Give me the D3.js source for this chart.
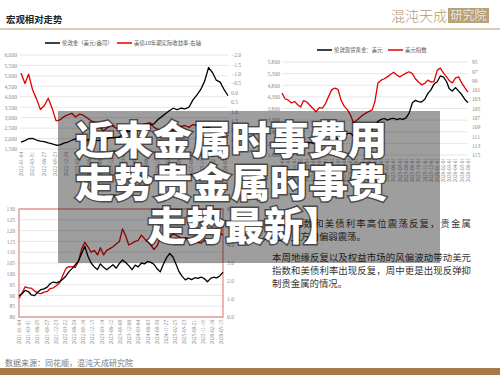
<!DOCTYPE html>
<html><head><meta charset="utf-8">
<script src="https://cdn.jsdelivr.net/npm/d3@7"></script>
<style>html,body{margin:0;padding:0;background:#fff;}svg{display:block;}</style>
</head><body><svg id="c" width="500" height="375"></svg>
<script>
// ---------- Chart 1: gold vs US 10Y real yield (monthly) ----------
const dates1 = ["2022-01-01","2022-02-01","2022-03-01","2022-04-01","2022-05-01","2022-06-01","2022-07-01","2022-08-01","2022-09-01","2022-10-01","2022-11-01","2022-12-01",
"2023-01-01","2023-02-01","2023-03-01","2023-04-01","2023-05-01","2023-06-01","2023-07-01","2023-08-01","2023-09-01","2023-10-01","2023-11-01","2023-12-01",
"2024-01-01","2024-02-01","2024-03-01","2024-04-01","2024-05-01","2024-06-01","2024-07-01","2024-08-01","2024-09-01","2024-10-01","2024-11-01","2024-12-01",
"2025-01-01","2025-02-01","2025-03-01","2025-04-01","2025-05-01","2025-06-01","2025-07-01","2025-08-01","2025-09-01","2025-10-01","2025-11-01","2025-12-01",
"2026-01-01","2026-02-01","2026-03-01","2026-04-01","2026-05-01","2026-06-01"];
const gold1 = [1830,1900,1990,2010,1930,1880,1850,1790,1740,1680,1700,1780,
1835,1920,1970,1990,1960,1930,1950,1920,1900,1980,2000,2060,
2040,2060,2180,2320,2350,2360,2420,2500,2600,2660,2700,2900,
3050,3200,3330,3450,3380,3460,3420,3500,3850,4080,4350,4750,
5400,5150,4800,4700,4350,4050];
const realYield1 = [-1.04,-0.48,-0.98,-0.15,0.32,0.9,0.7,0.3,0.85,1.5,1.45,1.28,
1.18,1.1,1.3,1.15,1.2,1.35,1.5,1.58,1.7,2.05,1.9,1.7,
1.85,1.95,1.9,2.05,1.85,1.95,1.8,1.75,1.65,1.6,1.85,1.95,
2.0,2.1,1.9,2.0,1.85,1.8,1.75,1.85,1.7,1.75,1.8,1.9,
1.85,1.95,2.05,1.95,2.1,2.05];
const xLabels1 = ["2022-01-04","2022-03-31","2022-06-27","2022-09-23","2022-12-20","2023-03-17","2023-06-13","2023-09-11","2023-12-07","2024-03-05",
"2024-06-03","2024-08-29","2024-11-25","2025-02-21","2025-05-20","2025-08-15","2025-11-12","2026-02-09","2026-05-08"];
const leftTicks1 = [1500,2000,2500,3000,3500,4000,4500,5000,5500,6000];
const rightTicks1 = [-2.0,-1.5,-1.0,-0.5,0.0,0.5,1.0,1.5,2.0,2.5,3.0];
const legend1 = ["伦敦金（美元/盎司）","美债10年期实际收益率-右轴"];

// ---------- Chart 2: spot gold vs dollar index (semi-monthly) ----------
const dates2 = ["2023-12-01","2023-12-16","2024-01-01","2024-01-16","2024-02-01","2024-02-16","2024-03-01","2024-03-16","2024-04-01","2024-04-16","2024-05-01","2024-05-16",
"2024-06-01","2024-06-16","2024-07-01","2024-07-16","2024-08-01","2024-08-16","2024-09-01","2024-09-16","2024-10-01","2024-10-16","2024-11-01","2024-11-16",
"2024-12-01","2024-12-16","2025-01-01","2025-01-16","2025-02-01","2025-02-16","2025-03-01","2025-03-16","2025-04-01","2025-04-16","2025-05-01","2025-05-16",
"2025-06-01","2025-06-16","2025-07-01","2025-07-16","2025-08-01","2025-08-16","2025-09-01","2025-09-16","2025-10-01","2025-10-16","2025-11-01","2025-11-16",
"2025-12-01","2025-12-16","2026-01-01","2026-01-16","2026-02-01","2026-02-16","2026-03-01","2026-03-16","2026-04-01","2026-04-16","2026-05-01","2026-05-16","2026-06-01"];
const gold2 = [2040,2020,2050,2030,2020,2040,2100,2170,2300,2340,2310,2380,
2330,2320,2400,2430,2460,2510,2500,2580,2650,2720,2740,2620,
2650,2630,2700,2790,2880,2920,3050,3250,3330,3370,3300,3350,
3380,3320,3360,3330,3400,3600,4050,4150,4100,4080,4200,4450,
4600,4850,4950,5200,5150,4950,4650,4550,4700,4550,4400,4200,4050];
const dxy2 = [101.7,102.9,103.2,103.8,103.5,104.2,104.7,103.3,103.6,104.3,105.0,105.7,
104.8,104.9,104.0,102.5,101.0,100.6,100.9,103.2,104.5,105.2,106.4,108.1,
107.6,107.0,106.4,106.0,105.6,105.3,103.5,99.5,98.9,98.6,98.2,97.7,
97.2,97.8,98.2,97.8,97.4,97.1,97.5,98.6,99.3,99.9,99.6,98.9,
99.3,99.2,96.8,96.3,97.4,98.2,99.0,99.5,98.4,98.2,99.5,100.5,101.5];
const xLabels2 = ["2023-12-01","2024-01-01","2024-02-01","2024-03-01","2024-04-01","2024-05-01","2024-06-01","2024-07-01","2024-08-01","2024-09-01","2024-10-01","2024-11-01",
"2024-12-01","2025-01-01","2025-02-01","2025-03-01","2025-04-01","2025-05-01","2025-06-01","2025-07-01","2025-08-01","2025-09-01","2025-10-01","2025-11-01",
"2025-12-01","2026-01-01","2026-02-01","2026-03-01","2026-04-01","2026-05-01","2026-06-01"];
const leftTicks2 = [1800,2300,2800,3300,3800,4300,4800,5300,5800];
const rightTicks2 = [95,97,99,101,103,105,107,109,111,113,115];
const legend2 = ["伦敦现货黄金：美元","美元指数"];

// ---------- Chart 3: dollar index vs US 10Y yield (monthly) ----------
const dates3 = ["2021-01-01","2021-02-01","2021-03-01","2021-04-01","2021-05-01","2021-06-01","2021-07-01","2021-08-01","2021-09-01","2021-10-01","2021-11-01","2021-12-01",
"2022-01-01","2022-02-01","2022-03-01","2022-04-01","2022-05-01","2022-06-01","2022-07-01","2022-08-01","2022-09-01","2022-10-01","2022-11-01","2022-12-01",
"2023-01-01","2023-02-01","2023-03-01","2023-04-01","2023-05-01","2023-06-01","2023-07-01","2023-08-01","2023-09-01","2023-10-01","2023-11-01","2023-12-01",
"2024-01-01","2024-02-01","2024-03-01","2024-04-01","2024-05-01","2024-06-01","2024-07-01","2024-08-01","2024-09-01","2024-10-01","2024-11-01","2024-12-01",
"2025-01-01","2025-02-01","2025-03-01","2025-04-01","2025-05-01","2025-06-01","2025-07-01","2025-08-01","2025-09-01","2025-10-01","2025-11-01","2025-12-01",
"2026-01-01","2026-02-01","2026-03-01","2026-04-01","2026-05-01","2026-06-01"];
const dxy3 = [89.8,90.8,92.3,91.8,90.2,89.9,91.5,92.7,93.0,93.8,95.5,96.2,
95.8,96.5,97.5,99.0,101.0,102.5,104.2,106.0,109.5,112.8,108.0,105.0,
103.2,102.0,104.6,103.0,101.9,103.0,104.2,102.6,104.8,106.4,105.2,103.8,
101.9,104.0,103.2,105.0,104.6,105.7,105.3,104.4,102.3,100.9,104.5,107.5,
109.4,107.8,104.6,101.0,98.8,97.2,98.0,97.3,98.2,97.9,98.5,97.8,
96.3,97.9,98.4,98.1,99.0,100.8];
const ust3 = [1.05,1.35,1.68,1.62,1.60,1.45,1.33,1.30,1.38,1.42,1.58,1.62,
1.75,1.92,2.30,2.70,2.80,2.78,2.75,3.10,3.80,4.15,3.90,3.60,
3.70,3.45,3.85,3.45,3.70,3.80,3.90,4.05,4.20,4.90,4.50,4.00,
4.10,4.20,4.25,4.55,4.35,4.20,4.00,3.75,3.95,4.40,4.55,4.70,
4.45,4.60,4.55,4.45,4.35,4.40,4.30,4.20,4.25,4.15,4.10,4.25,
4.20,4.10,4.35,4.50,4.65,4.55];
const xLabels3 = ["2021-01-04","2021-03-31","2021-06-29","2021-09-27","2021-12-23","2022-03-22","2022-06-20","2022-09-16","2022-12-15","2023-03-14","2023-06-12","2023-09-08",
"2023-12-06","2024-03-04","2024-06-03","2024-08-30","2024-11-27","2025-02-25","2025-05-23","2025-08-21","2025-11-19","2026-02-16","2026-05-15"];
const leftTicks3 = [80,85,90,95,100,105,110,115,120,125,130];
const rightTicks3 = [0,1,2,3,4,5,6];

// ---------- Texts ----------
const pageTitle = "宏观相对走势";
const logoText = "混沌天成";
const logoBox = "研究院";
const bodyLines = ["美元指数和美债利率高位震荡反复，贵金属","走势上方向偏弱震荡。"];
const bodyLines2 = ["本周地缘反复以及权益市场的风偏波动带动美元","指数和美债利率出现反复，周中更是出现反弹抑","制贵金属的情况。"];
const sourceText = "数据来源：同花顺，混沌天成研究院";
const headline = ["近来金属时事费用","走势贵金属时事费","走势最新】"];

const svg = d3.select("#c");
const parse = d3.timeParse("%Y-%m-%d");
const CJK = '"Noto Sans CJK SC", sans-serif';
const NUM = '"Liberation Serif", "DejaVu Serif", serif';
const RED = "#e50000";
const LBL = "#8a8a8a";

// header
svg.append("text").attr("x", 6).attr("y", 23).text(pageTitle)
  .attr("font-family", CJK).attr("font-weight", 700).attr("font-size", 9.4).attr("fill", "#222");
svg.append("line").attr("x1", 0).attr("x2", 500).attr("y1", 29).attr("y2", 29)
  .attr("stroke", "#cdbb98").attr("stroke-width", 1.5);
svg.append("text").attr("x", 391).attr("y", 21).text(logoText)
  .attr("font-family", CJK).attr("font-weight", 300).attr("font-size", 14).attr("fill", "#b49b72");
svg.append("rect").attr("x", 448).attr("y", 8).attr("width", 41).attr("height", 15).attr("fill", "#b8a17b");
svg.append("text").attr("x", 468.5).attr("y", 20).attr("text-anchor", "middle").text(logoBox)
  .attr("font-family", CJK).attr("font-weight", 300).attr("font-size", 12).attr("fill", "#fff");

function drawChart(o) {
  const g = svg.append("g");
  const x = d3.scaleTime().domain([parse(o.dates[0]), parse(o.dates[o.dates.length - 1])]).range([o.x0, o.x1]);
  const yL = d3.scaleLinear().domain(o.leftDomain).range([o.yB, o.yT]);
  const yR = d3.scaleLinear().domain(o.rightDomain).range([o.yB, o.yT]);
  g.selectAll("line.grid").data(o.leftTicks).join("line").attr("class", "grid")
    .attr("x1", o.gx0).attr("x2", o.gx1).attr("y1", d => yL(d)).attr("y2", d => yL(d))
    .attr("stroke", "#dcdcdc").attr("stroke-width", 0.7);
  if (o.frame) {
    g.append("rect").attr("x", o.gx0).attr("y", o.yT).attr("width", o.gx1 - o.gx0).attr("height", o.yB - o.yT)
      .attr("fill", "none").attr("stroke", "#e36a6a").attr("stroke-width", 1);
  }
  const la = g.append("g").attr("transform", `translate(${o.lx},0)`)
    .call(d3.axisLeft(yL).tickValues(o.leftTicks).tickFormat(o.leftFmt).tickSize(0).tickPadding(0));
  const ra = g.append("g").attr("transform", `translate(${o.rx},0)`)
    .call(d3.axisRight(yR).tickValues(o.rightTicks).tickFormat(o.rightFmt).tickSize(0).tickPadding(0));
  [la, ra].forEach(a => {
    a.select(".domain").remove();
    a.selectAll("text").attr("font-family", NUM).attr("font-size", 5.6).attr("fill", LBL);
  });
  g.selectAll("text.xl").data(o.labels).join("text").attr("class", "xl")
    .attr("transform", d => `translate(${x(parse(d))},${o.labelY}) rotate(-90)`)
    .attr("text-anchor", "end").attr("dy", "0.35em")
    .attr("font-family", NUM).attr("font-size", 5.2).attr("fill", LBL).text(d => d);
  const data = o.dates.map((d, i) => ({ t: parse(d), a: o.left[i], b: o.right[i] }));
  g.append("path").datum(data).attr("fill", "none").attr("stroke", RED).attr("stroke-width", 1.3)
    .attr("stroke-linejoin", "round").attr("d", d3.line().x(d => x(d.t)).y(d => yR(d.b)));
  g.append("path").datum(data).attr("fill", "none").attr("stroke", "#000").attr("stroke-width", 1.3)
    .attr("stroke-linejoin", "round").attr("d", d3.line().x(d => x(d.t)).y(d => yL(d.a)));
  if (o.legend) {
    const lg = g.append("g");
    const items = [{ c: "#000", t: o.legend[0], x: o.legX[0] }, { c: RED, t: o.legend[1], x: o.legX[1] }];
    items.forEach(it => {
      lg.append("line").attr("x1", it.x).attr("x2", it.x + 15).attr("y1", o.legY).attr("y2", o.legY)
        .attr("stroke", it.c).attr("stroke-width", 1.5);
      lg.append("text").attr("x", it.x + 17).attr("y", o.legY).attr("dy", "0.35em").text(it.t)
        .attr("font-family", CJK).attr("font-size", 5.4).attr("fill", "#555");
    });
  }
}

const comma = d3.format(",");
drawChart({ dates: dates1, left: gold1, right: realYield1, x0: 21, x1: 228, gx0: 20, gx1: 228,
  yT: 55, yB: 149, leftDomain: [1500, 6000], rightDomain: [3, -2], leftTicks: leftTicks1, rightTicks: rightTicks1,
  leftFmt: comma, rightFmt: d3.format(".1f"), lx: 17, rx: 231, labels: xLabels1, labelY: 152,
  legend: legend1, legX: [45, 117], legY: 43 });
drawChart({ dates: dates2, left: gold2, right: dxy2, x0: 282, x1: 468, gx0: 283, gx1: 468,
  yT: 62, yB: 155, leftDomain: [1800, 5800], rightDomain: [115, 95], leftTicks: leftTicks2, rightTicks: rightTicks2,
  leftFmt: comma, rightFmt: d3.format("d"), lx: 280, rx: 472, labels: xLabels2, labelY: 158,
  legend: legend2, legX: [317, 388], legY: 50 });
drawChart({ dates: dates3, left: dxy3, right: ust3, x0: 19, x1: 223, gx0: 19, gx1: 223,
  yT: 209, yB: 317, leftDomain: [80, 130], rightDomain: [0, 6], leftTicks: leftTicks3, rightTicks: rightTicks3,
  leftFmt: d3.format("d"), rightFmt: d3.format(".1f"), lx: 15, rx: 227, labels: xLabels3, labelY: 320, frame: true });

// body text (justified lines except the last line of each paragraph)
const body = svg.append("g").attr("font-family", CJK).attr("font-size", 9.4).attr("fill", "#333");
function para(lines, y0) {
  lines.forEach((t, i) => {
    const el = body.append("text").attr("x", 272).attr("y", y0 + i * 13).text(t);
    if (i < lines.length - 1) el.attr("textLength", 199).attr("lengthAdjust", "spacing");
  });
}
para(bodyLines, 227);
para(bodyLines2, 261);

// source & footer
svg.append("text").attr("x", 5).attr("y", 366).text(sourceText)
  .attr("font-family", CJK).attr("font-size", 8).attr("fill", "#7a7a7a");
svg.append("rect").attr("x", 0).attr("y", 368).attr("width", 500).attr("height", 7).attr("fill", "#a57b4a");

// overlay + headline
svg.append("rect").attr("x", 58).attr("y", 111).attr("width", 382).attr("height", 152).attr("fill", "rgba(0,0,0,0.38)");
const hx = [75, 75, 147];
headline.forEach((t, i) => svg.append("text").attr("x", hx[i]).attr("y", 154 + i * 43).text(t)
  .attr("font-family", CJK).attr("font-weight", 900).attr("font-size", 39).attr("fill", "#fff")
  .attr("stroke", "rgba(0,0,0,0.55)").attr("stroke-width", 3).attr("paint-order", "stroke"));
</script></body></html>
